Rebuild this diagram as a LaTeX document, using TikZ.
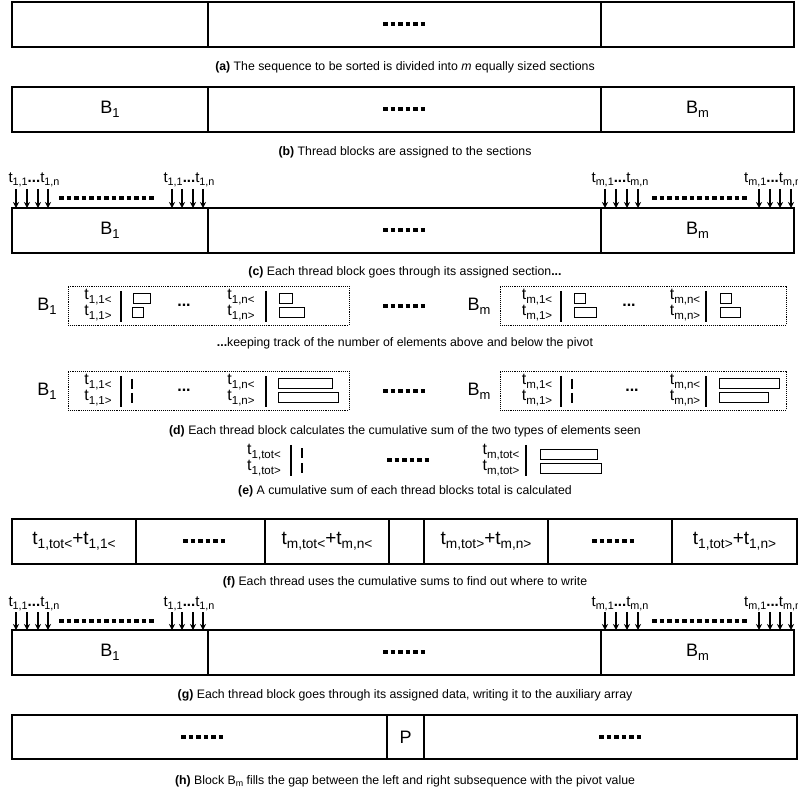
\documentclass[tikz,border=0pt]{standalone}
\usepackage{fontspec}
\setmainfont{Liberation Sans}
\usetikzlibrary{arrows.meta}
\makeatletter
% lowered index set at 72% of the surrounding size
\newcommand\lo[1]{\raisebox{-0.22em}{\fontsize{\the\dimexpr\f@size pt*72/100\relax}{0}\selectfont #1}}
\makeatother
\begin{document}
\begin{tikzpicture}[x=1pt,y=-1pt,
  cell/.style={draw, line width=1.2pt, inner sep=0pt},
  captxt/.style={font=\fontsize{12.3}{14}\selectfont, inner sep=0pt},
  blk/.style={font=\fontsize{18}{20}\selectfont, inner sep=0pt},
  tl/.style={font=\fontsize{16}{16}\selectfont, inner sep=0pt},
  sumtxt/.style={font=\fontsize{19}{19}\selectfont, inner sep=0pt},
  thr/.style={font=\fontsize{15}{15}\selectfont, inner sep=0pt},
  gapdots/.style={line width=3.2pt, dash pattern=on 4.5pt off 3pt},
  arr/.style={line width=1.2pt, -{Stealth[length=6pt,width=6pt]}},
  grp/.style={draw, densely dotted, line width=0.9pt},
  vbar/.style={line width=1.2pt},
  cnt/.style={draw, line width=1pt}]
\useasboundingbox (0,0) rectangle (798,791);

% ---------- (a) ----------
\node[cell, minimum width=196, minimum height=45] (a1) at (110,24.5) {};
\node[cell, minimum width=393, minimum height=45] (a2) at (404.5,24.5) {};
\node[cell, minimum width=193, minimum height=45] (a3) at (697.5,24.5) {};
\draw[gapdots] (383,24) -- (425,24);
\node[captxt] (capa) at (405,67) {\textbf{(a)} The sequence to be sorted is divided into \textit{m} equally sized sections};

% ---------- (b) ----------
\node[cell, minimum width=196, minimum height=45, blk] (b1) at (110,109.5) {B\lo{1}};
\node[cell, minimum width=393, minimum height=45] (b2) at (404.5,109.5) {};
\node[cell, minimum width=193, minimum height=45, blk] (b3) at (697.5,109.5) {B\lo{m}};
\draw[gapdots] (383,109) -- (425,109);
\node[captxt] (capb) at (405,152) {\textbf{(b)} Thread blocks are assigned to the sections};

% ---------- (c) ----------
\node[cell, minimum width=196, minimum height=45, blk] (c1) at (110,230.5) {B\lo{1}};
\node[cell, minimum width=393, minimum height=45] (c2) at (404.5,230.5) {};
\node[cell, minimum width=193, minimum height=45, blk] (c3) at (697.5,230.5) {B\lo{m}};
\draw[gapdots] (383,230) -- (425,230);
\node[thr] (tc1) at (34,180) {t\lo{1,1}\textbf{...}t\lo{1,n}};
\node[thr] (tc2) at (189,180) {t\lo{1,1}\textbf{...}t\lo{1,n}};
\node[thr] (tc3) at (620,180) {t\lo{m,1}\textbf{...}t\lo{m,n}};
\node[thr, anchor=west] (tc4) at (744,180) {t\lo{m,1}\textbf{...}t\lo{m,n}};
\foreach \x in {16,27,38,48,172,182,193,203,605,616,627,638,759,770,780,791}
  \draw[arr] (\x,189) -- (\x,208);
\draw[gapdots] (59,198) -- (155,198);
\draw[gapdots] (652,198) -- (748,198);
\node[captxt] (capc) at (405,272) {\textbf{(c)} Each thread block goes through its assigned section\textbf{...}};

% ---------- (d) counting ----------
\node[blk] (d1b) at (47,306) {B\lo{1}};
\node[grp, minimum width=281, minimum height=39] (d1g) at (208.5,305.5) {};
\node[tl] (d1t1) at (98,297) {t\lo{1,1<}};
\node[tl] (d1t2) at (98,313) {t\lo{1,1>}};
\draw[vbar] (121,291) -- (121,322);
\draw[cnt] (133,294) rectangle (150,304);
\draw[cnt] (132,308) rectangle (143,318);
\node[tl] (d1e) at (184,305) {\textbf{...}};
\node[tl] (d1t3) at (241,297) {t\lo{1,n<}};
\node[tl] (d1t4) at (241,313) {t\lo{1,n>}};
\draw[vbar] (266,291) -- (266,322);
\draw[cnt] (279,294) rectangle (292,304);
\draw[cnt] (279,308) rectangle (304,318);
\draw[gapdots] (383,306) -- (425,306);
\node[blk] (d1m) at (479,306) {B\lo{m}};
\node[grp, minimum width=286, minimum height=39] (d1h) at (643,305.5) {};
\node[tl] (d1u1) at (537,297) {t\lo{m,1<}};
\node[tl] (d1u2) at (537,313) {t\lo{m,1>}};
\draw[vbar] (561,291) -- (561,322);
\draw[cnt] (574,294) rectangle (585,304);
\draw[cnt] (574,308) rectangle (596,318);
\node[tl] (d1f) at (629,305) {\textbf{...}};
\node[tl] (d1u3) at (685,297) {t\lo{m,n<}};
\node[tl] (d1u4) at (685,313) {t\lo{m,n>}};
\draw[vbar] (706,291) -- (706,322);
\draw[cnt] (720,294) rectangle (731,304);
\draw[cnt] (720,308) rectangle (740,318);
\node[captxt] (capk) at (405,343) {\textbf{...}keeping track of the number of elements above and below the pivot};

% ---------- (d) prefix sums ----------
\node[blk] (d2b) at (47,391) {B\lo{1}};
\node[grp, minimum width=281, minimum height=39] (d2g) at (208.5,390.5) {};
\node[tl] (d2t1) at (98,382) {t\lo{1,1<}};
\node[tl] (d2t2) at (98,398) {t\lo{1,1>}};
\draw[vbar] (121,376) -- (121,407);
\draw[vbar] (132,379) -- (132,389);
\draw[vbar] (132,393) -- (132,403);
\node[tl] (d2e) at (184,390) {\textbf{...}};
\node[tl] (d2t3) at (241,382) {t\lo{1,n<}};
\node[tl] (d2t4) at (241,398) {t\lo{1,n>}};
\draw[vbar] (266,376) -- (266,407);
\draw[cnt] (278,379) rectangle (332,389);
\draw[cnt] (278,393) rectangle (338,403);
\draw[gapdots] (383,391) -- (425,391);
\node[blk] (d2m) at (479,391) {B\lo{m}};
\node[grp, minimum width=286, minimum height=39] (d2h) at (643,390.5) {};
\node[tl] (d2u1) at (537,382) {t\lo{m,1<}};
\node[tl] (d2u2) at (537,398) {t\lo{m,1>}};
\draw[vbar] (561,376) -- (561,407);
\draw[vbar] (572,379) -- (572,389);
\draw[vbar] (572,393) -- (572,403);
\node[tl] (d2f) at (632,390) {\textbf{...}};
\node[tl] (d2u3) at (685,382) {t\lo{m,n<}};
\node[tl] (d2u4) at (685,398) {t\lo{m,n>}};
\draw[vbar] (706,376) -- (706,407);
\draw[cnt] (719,379) rectangle (779,389);
\draw[cnt] (719,393) rectangle (768,403);
\node[captxt] (capd) at (405,431) {\textbf{(d)} Each thread block calculates the cumulative sum of the two types of elements seen};

% ---------- (e) ----------
\node[tl] (et1) at (264,452) {t\lo{1,tot<}};
\node[tl] (et2) at (264,468) {t\lo{1,tot>}};
\draw[vbar] (291,445) -- (291,476);
\draw[vbar] (302,448) -- (302,458);
\draw[vbar] (302,463) -- (302,473);
\draw[gapdots] (387,460) -- (429,460);
\node[tl] (eu1) at (501,452) {t\lo{m,tot<}};
\node[tl] (eu2) at (501,468) {t\lo{m,tot>}};
\draw[vbar] (526,445) -- (526,476);
\draw[cnt] (540,449) rectangle (597,459);
\draw[cnt] (540,463) rectangle (601,473);
\node[captxt] (cape) at (405,491) {\textbf{(e)} A cumulative sum of each thread blocks total is calculated};

% ---------- (f) ----------
\node[cell, minimum width=124, minimum height=45, sumtxt] (f1) at (74,541.5) {t\lo{1,tot<}+t\lo{1,1<}};
\node[cell, minimum width=129, minimum height=45] (f2) at (200.5,541.5) {};
\node[cell, minimum width=124, minimum height=45, sumtxt] (f3) at (327,541.5) {t\lo{m,tot<}+t\lo{m,n<}};
\node[cell, minimum width=35, minimum height=45] (f4) at (406.5,541.5) {};
\node[cell, minimum width=124, minimum height=45, sumtxt] (f5) at (486,541.5) {t\lo{m,tot>}+t\lo{m,n>}};
\node[cell, minimum width=124, minimum height=45] (f6) at (610,541.5) {};
\node[cell, minimum width=125, minimum height=45, sumtxt] (f7) at (734.5,541.5) {t\lo{1,tot>}+t\lo{1,n>}};
\draw[gapdots] (183,541) -- (225,541);
\draw[gapdots] (592,541) -- (634,541);
\node[captxt] (capf) at (405,582) {\textbf{(f)} Each thread uses the cumulative sums to find out where to write};

% ---------- (g) ----------
\node[cell, minimum width=196, minimum height=45, blk] (g1) at (110,652.5) {B\lo{1}};
\node[cell, minimum width=393, minimum height=45] (g2) at (404.5,652.5) {};
\node[cell, minimum width=193, minimum height=45, blk] (g3) at (697.5,652.5) {B\lo{m}};
\draw[gapdots] (383,652) -- (425,652);
\node[thr] (tg1) at (34,604) {t\lo{1,1}\textbf{...}t\lo{1,n}};
\node[thr] (tg2) at (189,604) {t\lo{1,1}\textbf{...}t\lo{1,n}};
\node[thr] (tg3) at (620,604) {t\lo{m,1}\textbf{...}t\lo{m,n}};
\node[thr, anchor=west] (tg4) at (744,604) {t\lo{m,1}\textbf{...}t\lo{m,n}};
\foreach \x in {16,27,38,48,172,182,193,203,605,616,627,638,759,770,780,791}
  \draw[arr] (\x,612) -- (\x,630);
\draw[gapdots] (59,621) -- (155,621);
\draw[gapdots] (652,621) -- (748,621);
\node[captxt] (capg) at (405,695) {\textbf{(g)} Each thread block goes through its assigned data, writing it to the auxiliary array};

% ---------- (h) ----------
\node[cell, minimum width=375, minimum height=44] (h1) at (199.5,737) {};
\node[cell, minimum width=37, minimum height=44, blk] (h2) at (405.5,737) {P};
\node[cell, minimum width=373, minimum height=44] (h3) at (610.5,737) {};
\draw[gapdots] (181,737) -- (223,737);
\draw[gapdots] (599,737) -- (641,737);
\node[captxt] (caph) at (405,781) {\textbf{(h)} Block B\lo{m} fills the gap between the left and right subsequence with the pivot value};
\end{tikzpicture}
\end{document}
